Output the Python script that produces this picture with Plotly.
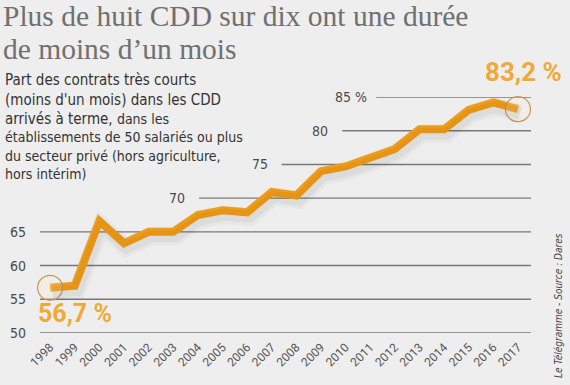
import plotly.graph_objects as go

# ---- data ----
years = list(range(1998, 2018))
values = [56.7, 57.0, 66.6, 63.3, 65.0, 65.0, 67.5, 68.2, 67.9, 70.9,
          70.4, 74.0, 74.7, 75.9, 77.3, 80.2, 80.2, 83.1, 84.2, 83.2]
grid_values = [50, 55, 60, 65, 70, 75, 80, 85]
grid_labels = ["50", "55", "60", "65", "70", "75", "80", "85 %"]
tick_labels = [str(y) for y in years]

title_lines = ["Plus de huit CDD sur dix ont une durée", "de moins d’un mois"]
source = "Le Télégramme - Source : Dares"

# ---- layout geometry (pixels) ----
W, H = 570, 385
L, R, T, B = 40, 39, 97, 52
X0, X1 = 40, 531
Y0, Y1 = 333, 97

def px(x):
    return (x - X0) / (X1 - X0)

def py(y):
    return (Y0 - y) / (Y0 - Y1)

xr = [1997.59, 2017.53]
yr = [50, 85]
# where the staggered gridlines start (data x); missing = left edge
grid_start = {70: 2004.05, 75: 2007.4, 80: 2009.87, 85: 2011.24}
label_gap = {85: -7}

ORANGE = "#F7A21B"
LABEL_ORANGE = "#F0A935"
SANS = "Liberation Sans Narrow, DejaVu Sans Condensed, Roboto"
BG = "#EEEEEE"

fig = go.Figure()

# soft shadow (same data drawn on slightly shifted overlay axes)
for w, a in [(18, 0.03), (12, 0.045)]:
    fig.add_trace(go.Scatter(x=years, y=values, mode="lines",
                             line=dict(color=f"rgba(0,0,0,{a})", width=w),
                             xaxis="x2", yaxis="y2", hoverinfo="skip",
                             showlegend=False, cliponaxis=False))

fig.add_trace(go.Scatter(x=years, y=values, mode="lines",
                         line=dict(color=ORANGE, width=8),
                         showlegend=False, cliponaxis=False))

fig.add_trace(go.Scatter(x=[years[0], years[-1]], y=[values[0], values[-1]],
                         mode="markers",
                         marker=dict(size=25, color="rgba(255,235,200,0.18)",
                                     line=dict(color="#C9975A", width=1.2)),
                         showlegend=False, cliponaxis=False))

shapes = []
annotations = []
for v, lab in zip(grid_values, grid_labels):
    if v in grid_start:
        x0, xref0, x1 = grid_start[v], "x", xr[1]
    else:
        x0, xref0, x1 = 0, "paper", 1
    shapes.append(dict(type="line", xref=xref0, yref="y",
                       x0=x0, x1=x1, y0=v, y1=v,
                       line=dict(color="#787878", width=1.4), layer="below"))
    annotations.append(dict(x=x0, xref=xref0, y=v, yref="y", text=lab,
                            showarrow=False, xanchor="right", yanchor="middle",
                            xshift=label_gap.get(v, -12),
                            font=dict(family=SANS, size=14, color="#4a4a4a")))

def fmt(v):
    return f"{v:.1f}".replace(".", ",") + " %"

annotations.append(dict(x=years[0], y=values[0], xref="x", yref="y",
                        text=f"<b>{fmt(values[0])}</b>", showarrow=False,
                        xanchor="left", yanchor="middle", xshift=-14, yshift=-26,
                        font=dict(family="Roboto", size=25, color=LABEL_ORANGE)))
annotations.append(dict(x=years[-1], y=values[-1], xref="x", yref="y",
                        text=f"<b>{fmt(values[-1])}</b>", showarrow=False,
                        xanchor="center", yanchor="middle", xshift=6, yshift=37,
                        font=dict(family="Roboto", size=26, color=LABEL_ORANGE)))

# title
for line, yc in zip(title_lines, [16.5, 48.5]):
    annotations.append(dict(x=px(2), y=py(yc), xref="paper", yref="paper",
                            text=line, showarrow=False, xanchor="left",
                            yanchor="middle", borderpad=0,
                            font=dict(family="Liberation Serif", size=29.5,
                                      color="#707070")))

sub = [
    ("Part des contrats très courts", 80),
    ("(moins d'un mois) dans les CDD", 99.5),
    ("arrivés à terme, <span style='font-size:14px'>dans les</span>", 118.5),
    ("<span style='font-size:14px'>établissements de 50 salariés ou plus</span>", 137),
    ("<span style='font-size:14px'>du secteur privé (hors agriculture,</span>", 155.5),
    ("<span style='font-size:14px'>hors intérim)</span>", 174),
]
for t, yc in sub:
    annotations.append(dict(x=px(3), y=py(yc), xref="paper", yref="paper",
                            text=t, showarrow=False, xanchor="left",
                            yanchor="middle",
                            font=dict(family=SANS, size=15, color="#333333")))

annotations.append(dict(x=px(558), y=py(306), xref="paper", yref="paper",
                        text=f"<i>{source}</i>", showarrow=False, textangle=-90,
                        xanchor="center", yanchor="middle",
                        font=dict(family=SANS, size=10, color="#444444")))

fig.update_layout(
    width=W, height=H,
    margin=dict(l=L, r=R, t=T, b=B),
    paper_bgcolor=BG, plot_bgcolor=BG,
    xaxis=dict(range=xr, tickvals=years, ticktext=tick_labels, tickangle=-45,
               showgrid=False, zeroline=False, showline=False, ticks="",
               tickfont=dict(family="Roboto", size=12, color="#555555"),
               ticklabelstandoff=4, fixedrange=True),
    yaxis=dict(range=yr, showgrid=False, zeroline=False, showticklabels=False,
               fixedrange=True),
    xaxis2=dict(range=[xr[0] - 0.09, xr[1] - 0.09], overlaying="x",
                visible=False, fixedrange=True),
    yaxis2=dict(range=[yr[0] + 0.65, yr[1] + 0.65], overlaying="y",
                visible=False, fixedrange=True),
    shapes=shapes, annotations=annotations,
)

fig.write_html("out.html",
               config={"displayModeBar": False, "staticPlot": True},
               post_script="document.body.style.margin='0';"
                           "document.body.style.background='" + BG + "';")
